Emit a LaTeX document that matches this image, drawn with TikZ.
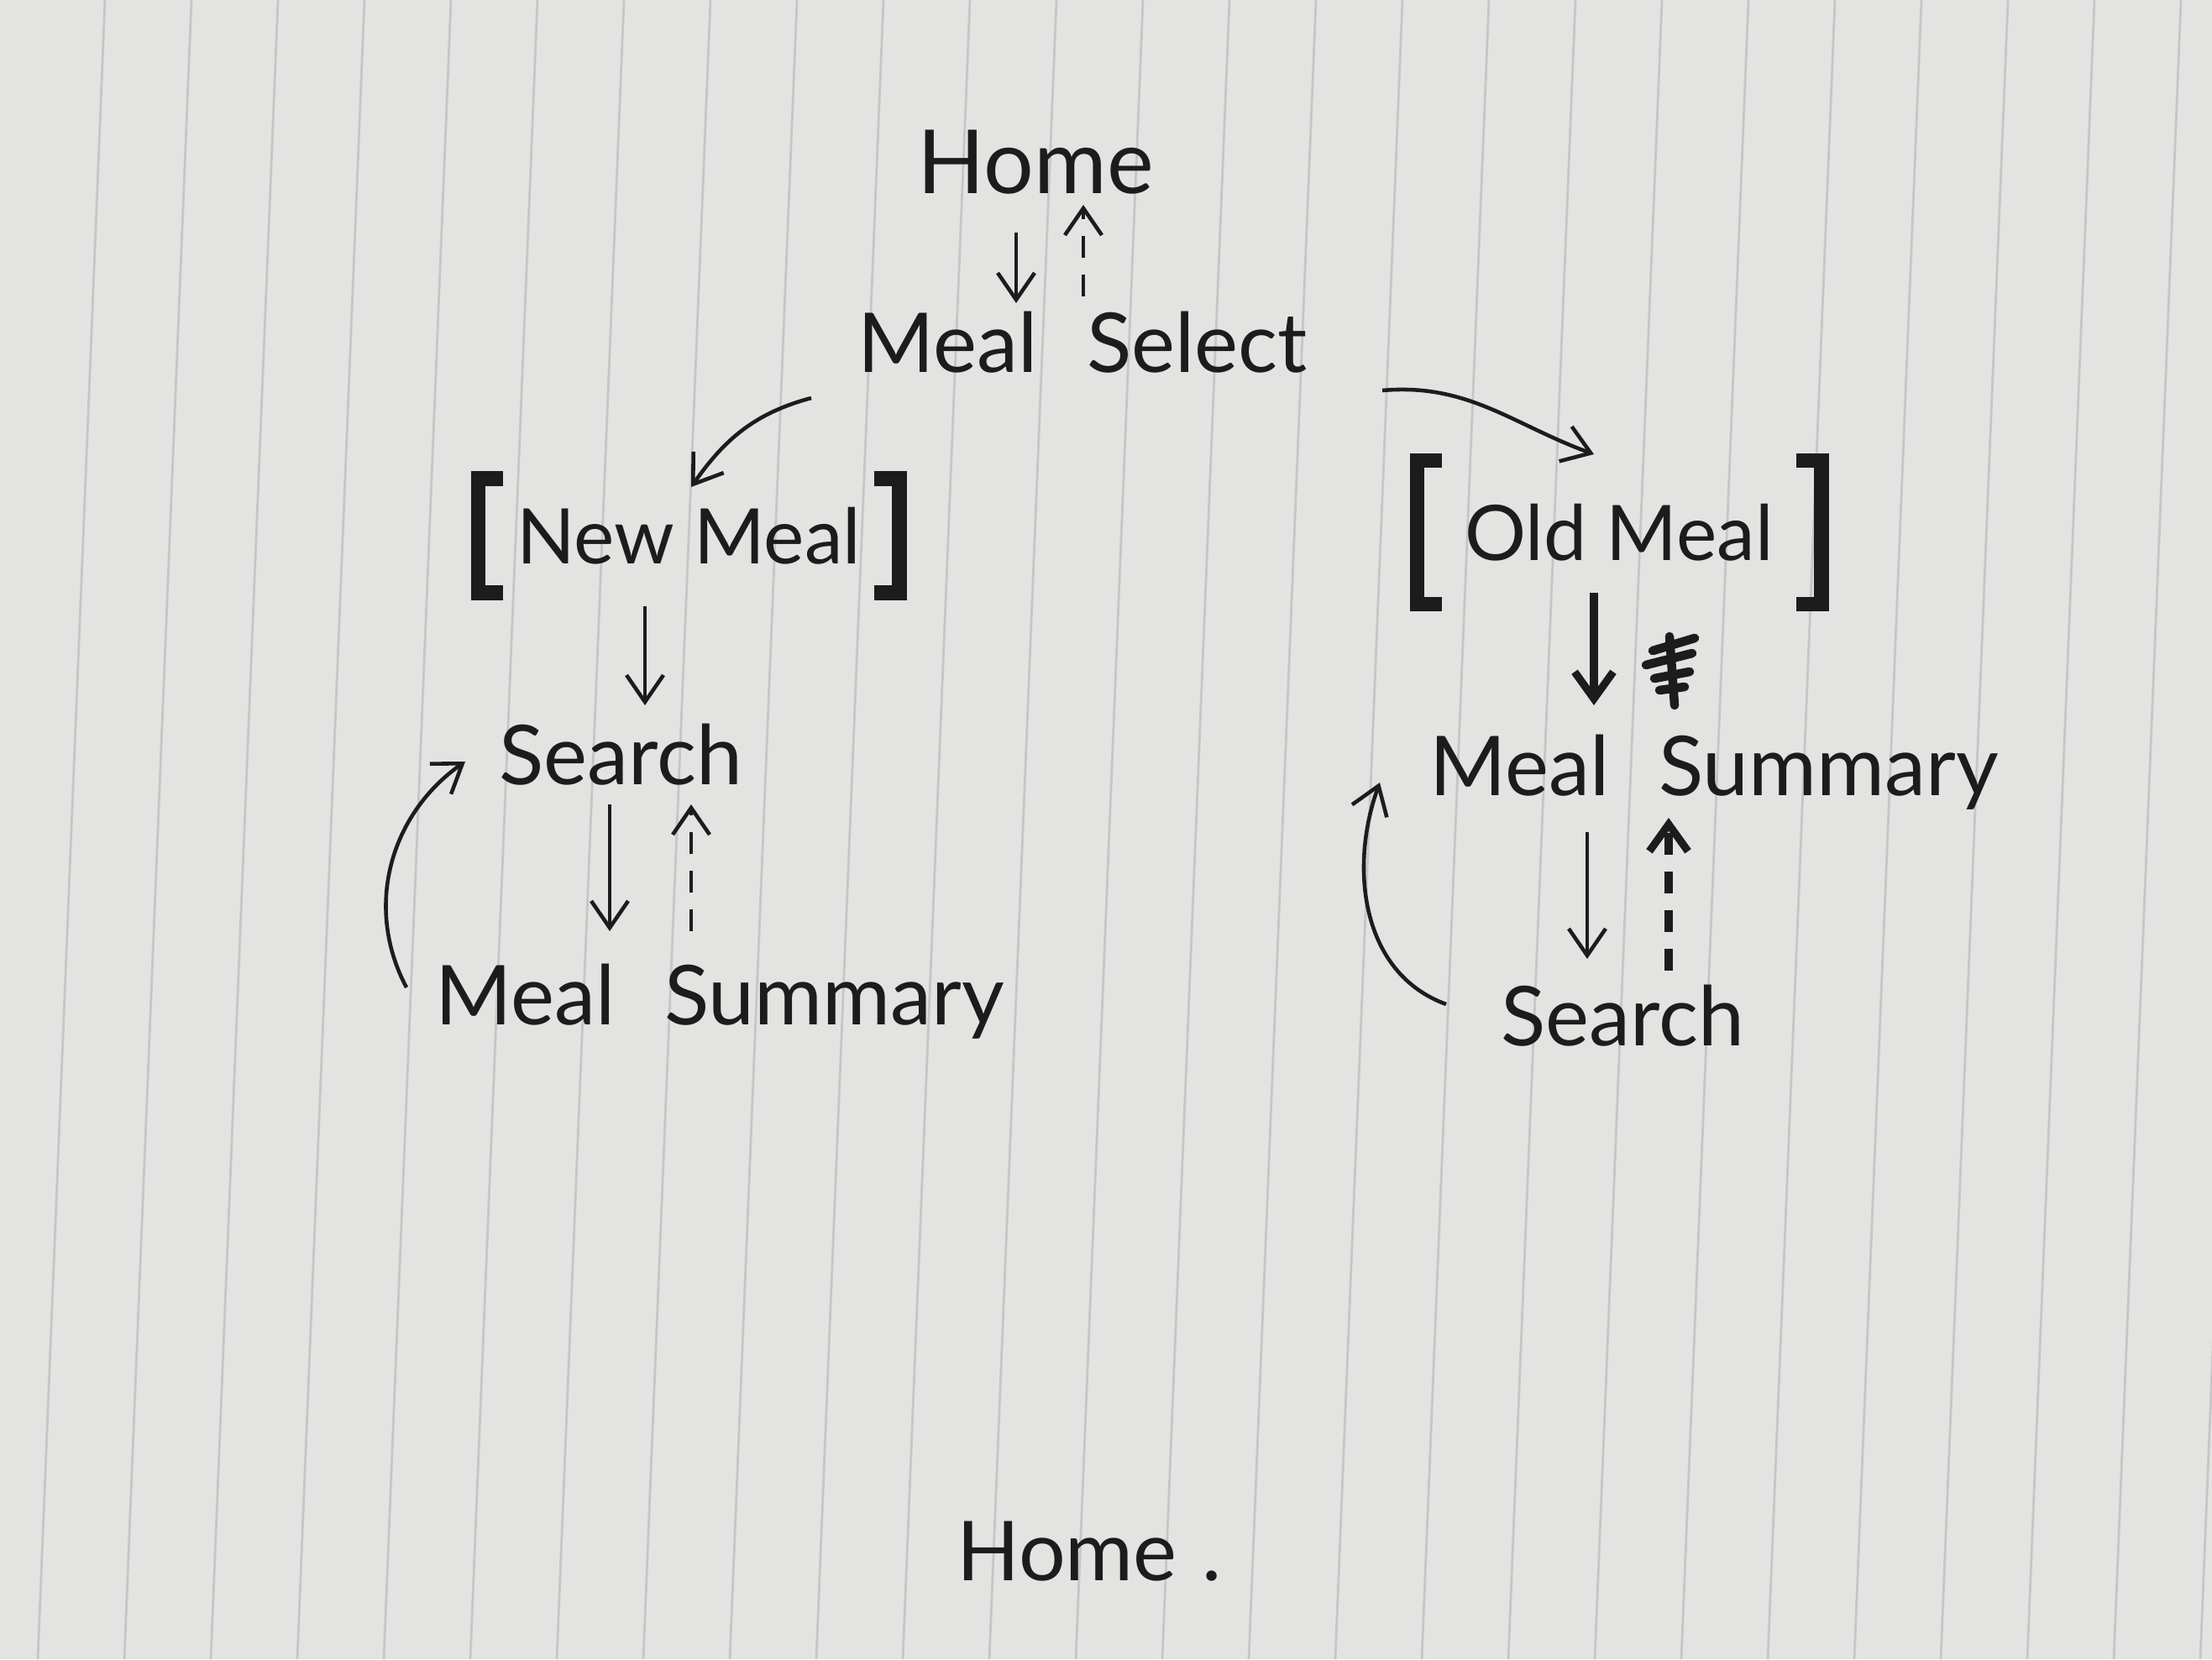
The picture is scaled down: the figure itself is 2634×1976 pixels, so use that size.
\documentclass[tikz,border=0pt]{standalone}
\usepackage{fontspec}
\setmainfont{Lato}
\usetikzlibrary{arrows.meta}
\definecolor{paper}{HTML}{E3E3E1}
\definecolor{rule}{HTML}{C6C6C6}
\definecolor{ink}{HTML}{1C1C1C}
\tikzset{
  lbl/.style={text=ink, inner sep=0pt, font=\fontsize{28}{32}\selectfont},
  arr/.style={draw=ink, line width=1.3pt, -{Straight Barb[length=3.2mm,width=4.4mm,line width=1.3pt]}},
  boldarr/.style={arr, line width=2.6pt, -{Straight Barb[length=3.2mm,width=4.6mm,line width=2.6pt]}},
  dasharr/.style={arr, dash pattern=on 2.6mm off 2mm},
  bolddash/.style={boldarr, dash pattern=on 2.6mm off 2mm},
  brk/.style={draw=ink, line width=5pt, line join=miter},
  bracketed/.style={lbl, font=\fontsize{26}{30}\selectfont, minimum width=50mm, minimum height=13.5mm},
}
\begin{document}
\begin{tikzpicture}[x=0.1mm, y=-0.1mm]
\useasboundingbox (0,0) rectangle (2634,1976);
\fill[paper] (0,0) rectangle (2634,1976);
% ruled lines of the paper
\foreach \k in {0,...,25}{
  \draw[rule, line width=0.8pt] ({125+103*\k},0) -- ({45+103*\k},1976);
}
% nodes
\node[lbl, font=\fontsize{30}{34}\selectfont] (home) at (1233,193) {Home};
\node[lbl] (ms) at (1289,408) {Meal\hspace{0.6em}Select};
\node[bracketed] (nm) at (820,638) {New Meal};
\node[bracketed, minimum width=48mm, minimum height=17mm] (om) at (1928,634) {Old Meal};
\node[lbl] (s1) at (739,899) {Search};
\node[lbl] (sum1) at (857,1193) {Meal\hspace{0.6em}Summary};
\node[lbl] (sum2) at (2041,920) {Meal\hspace{0.6em}Summary};
\node[lbl] (s2) at (1932,1210) {Search};
\node[lbl] (home2) at (1297,1848) {Home\hspace{0.3em}.};
% brackets
\foreach \n in {nm,om}{
  \draw[brk] ([xshift=3mm]\n.north west) -- (\n.north west) -- (\n.south west) -- ([xshift=3mm]\n.south west);
  \draw[brk] ([xshift=-3mm]\n.north east) -- (\n.north east) -- (\n.south east) -- ([xshift=-3mm]\n.south east);
}
% top arrows
\draw[arr] ([shift={(-23,84)}]home.center) -- ([shift={(-79,-47)}]ms.center);
\draw[dasharr] ([shift={(1,-55)}]ms.center) -- ([shift={(57,51)}]home.center);
\draw[arr] ([shift={(-323,66)}]ms.center) to[out=195,in=55] ([shift={(3,-58)}]nm.center);
\draw[arr] ([shift={(357,57)}]ms.center) to[out=5,in=160] ([shift={(-30,-93)}]om.center);
% left branch
\draw[arr] ([shift={(-52,84)}]nm.center) -- ([shift={(29,-59)}]s1.center);
\draw[arr] ([shift={(-13,59)}]s1.center) -- ([shift={(-131,-84)}]sum1.center);
\draw[dasharr] ([shift={(-34,-84)}]sum1.center) -- ([shift={(84,59)}]s1.center);
\draw[arr] ([shift={(-373,-17)}]sum1.center) to[out=118,in=215] ([shift={(-185,8)}]s1.center);
% right branch
\draw[boldarr] ([shift={(-30,72)}]om.center) -- ([shift={(-143,-80)}]sum2.center);
\draw[arr] ([shift={(-151,71)}]sum2.center) -- ([shift={(-42,-68)}]s2.center);
\draw[bolddash] ([shift={(55,-54)}]s2.center) -- ([shift={(-54,54)}]sum2.center);
\draw[arr] ([shift={(-210,-14)}]s2.center) to[out=160,in=250] ([shift={(-398,12)}]sum2.center);
% scribble (crossed-out mark)
\coordinate (scr) at (1990,800);
\draw[ink, line width=3pt, line cap=round]
  ([shift={(-22,-25)}]scr) -- ([shift={(28,-40)}]scr)
  ([shift={(-30,-8)}]scr) -- ([shift={(25,-22)}]scr)
  ([shift={(-20,8)}]scr) -- ([shift={(22,0)}]scr)
  ([shift={(-14,22)}]scr) -- ([shift={(16,18)}]scr)
  ([shift={(-2,-42)}]scr) -- ([shift={(4,40)}]scr);
\end{tikzpicture}
\end{document}
